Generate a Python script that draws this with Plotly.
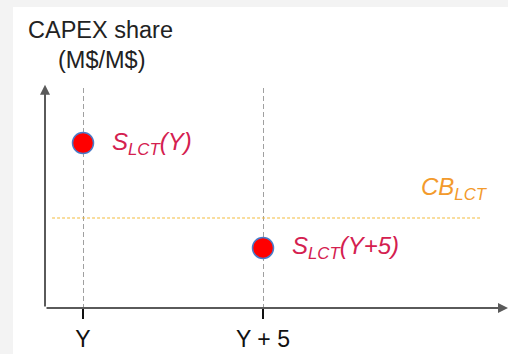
import plotly.graph_objects as go

# Data
categories = ["Y", "Y + 5"]
x_vals = [0, 5]
share_vals = [0.75, 0.273]
point_labels = ["<i>S<sub>LCT</sub>(Y)</i>", "<i>S<sub>LCT</sub>(Y+5)</i>"]
cb_value = 0.409
cb_x = [-0.86, 11.03]
cb_label = "<i>CB<sub>LCT</sub></i>"

X_RANGE = [-1.056, 11.806]
Y_RANGE = [0, 1]
FONT = "Liberation Sans, Arial, sans-serif"

fig = go.Figure()

# CB line
fig.add_trace(go.Scatter(
    x=cb_x, y=[cb_value, cb_value], mode="lines",
    line=dict(color="#f4bc3c", width=1.2, dash="3px,2px"),
    hoverinfo="skip", showlegend=False))

# Points
fig.add_trace(go.Scatter(
    x=x_vals, y=share_vals, mode="markers",
    marker=dict(size=21, color="#ff0000", line=dict(color="#4a7ac8", width=1.5)),
    showlegend=False))

# White panel (kept inside the page)
fig.add_shape(type="rect", xref="paper", yref="paper",
              x0=(13 - 45) / 463, x1=1.0, y0=-46 / 220, y1=(308 - 7) / 220,
              fillcolor="white", line=dict(width=0), layer="below")

# Axis arrows
fig.add_annotation(x=X_RANGE[0], y=Y_RANGE[1] + 0.015, ax=X_RANGE[0], ay=Y_RANGE[0],
                   xref="x", yref="y", axref="x", ayref="y", text="",
                   showarrow=True, arrowhead=2, arrowsize=1, arrowwidth=2,
                   arrowcolor="#5a5a5a")
fig.add_annotation(x=X_RANGE[1], y=Y_RANGE[0], ax=X_RANGE[0], ay=Y_RANGE[0],
                   xref="x", yref="y", axref="x", ayref="y", text="",
                   showarrow=True, arrowhead=2, arrowsize=1, arrowwidth=2,
                   arrowcolor="#5a5a5a")

# Point labels
for xv, yv, lab in zip(x_vals, share_vals, point_labels):
    fig.add_annotation(x=xv, y=yv, xref="x", yref="y", text=lab, showarrow=False,
                       xanchor="left", xshift=27, yshift=0,
                       font=dict(size=24, color="#d4204f", family=FONT))

# CB label
fig.add_annotation(x=cb_x[1], y=cb_value, xref="x", yref="y", text=cb_label,
                   showarrow=False, xanchor="right", yanchor="bottom", xshift=10, yshift=12,
                   font=dict(size=24, color="#f39a2c", family=FONT))

# Axis title
fig.add_annotation(x=(100 - 45) / 463, y=(308 - 30) / 220, xref="paper", yref="paper",
                   text="CAPEX share", showarrow=False, xanchor="center", yanchor="middle",
                   font=dict(size=23.5, color="#222222", family=FONT))
fig.add_annotation(x=(101 - 45) / 463, y=(308 - 60) / 220, xref="paper", yref="paper",
                   text="(M$/M$)", showarrow=False, xanchor="center", yanchor="middle",
                   font=dict(size=23.5, color="#222222", family=FONT))

fig.update_xaxes(range=X_RANGE, tickvals=x_vals, ticktext=categories,
                 showgrid=True, gridcolor="#a0a0a0", griddash="5px,3px", gridwidth=1,
                 zeroline=False, showline=False, ticks="outside", ticklen=10,
                 tickcolor="#111111", tickwidth=1.5,
                 tickfont=dict(size=23, color="#111111", family=FONT))
fig.update_yaxes(range=Y_RANGE, showgrid=False, zeroline=False, showline=False,
                 showticklabels=False, ticks="")

fig.update_layout(
    width=508, height=354,
    margin=dict(l=45, r=0, t=88, b=46),
    paper_bgcolor="#f3f3f3", plot_bgcolor="white",
    showlegend=False,
)

fig.write_html("out.html",
               config={"displayModeBar": False},
               post_script="document.body.style.margin='0';document.body.style.padding='0';"
                           "document.body.style.overflow='hidden';")
